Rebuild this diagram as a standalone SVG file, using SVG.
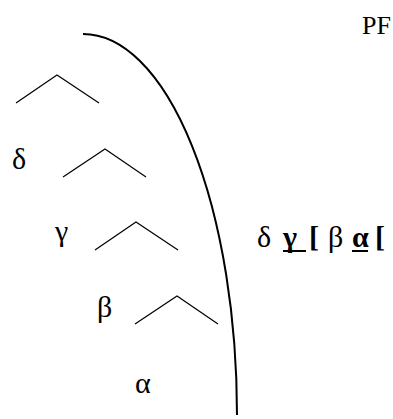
<svg xmlns="http://www.w3.org/2000/svg" width="393" height="419" viewBox="0 0 393 419">
<style>
.t{font-family:"Liberation Serif","DejaVu Serif",serif;font-size:30px;fill:#000}
.p{font-size:26px}
.b{font-weight:bold}
.c{fill:none;stroke:#000;stroke-width:1.2}
.arc{fill:none;stroke:#000;stroke-width:2}
</style>
<rect width="393" height="419" fill="#fff"/>
<g id="connectors">
<path class="arc" d="M83,34 A154,381 0 0 1 237,415"/>
<polyline class="c" points="16,103 57,75 99,103"/>
<polyline class="c" points="63,177 105,149 146,177"/>
<polyline class="c" points="95,250 136,222 178,250"/>
<polyline class="c" points="135,324 177,296 218,324"/>
</g>
<g id="pf"><text class="t p" x="362" y="34">PF</text></g>
<g id="delta"><text class="t" x="12" y="169">δ</text></g>
<g id="gamma"><text class="t" x="55" y="241">γ</text></g>
<g id="beta"><text class="t" x="97" y="317">β</text></g>
<g id="alpha"><text class="t" x="135" y="393">α</text></g>
<g id="string">
<text class="t" x="257" y="247">δ</text>
<text class="t b" x="283" y="247">γ</text>
<line x1="283" y1="251" x2="306" y2="251" stroke="#000" stroke-width="2"/>
<text class="t b" x="309" y="247">[</text>
<text class="t" x="328" y="247">β</text>
<text class="t b" x="352" y="247">α</text>
<line x1="352" y1="251" x2="368" y2="251" stroke="#000" stroke-width="2"/>
<text class="t b" x="375" y="247">[</text>
</g>
</svg>
